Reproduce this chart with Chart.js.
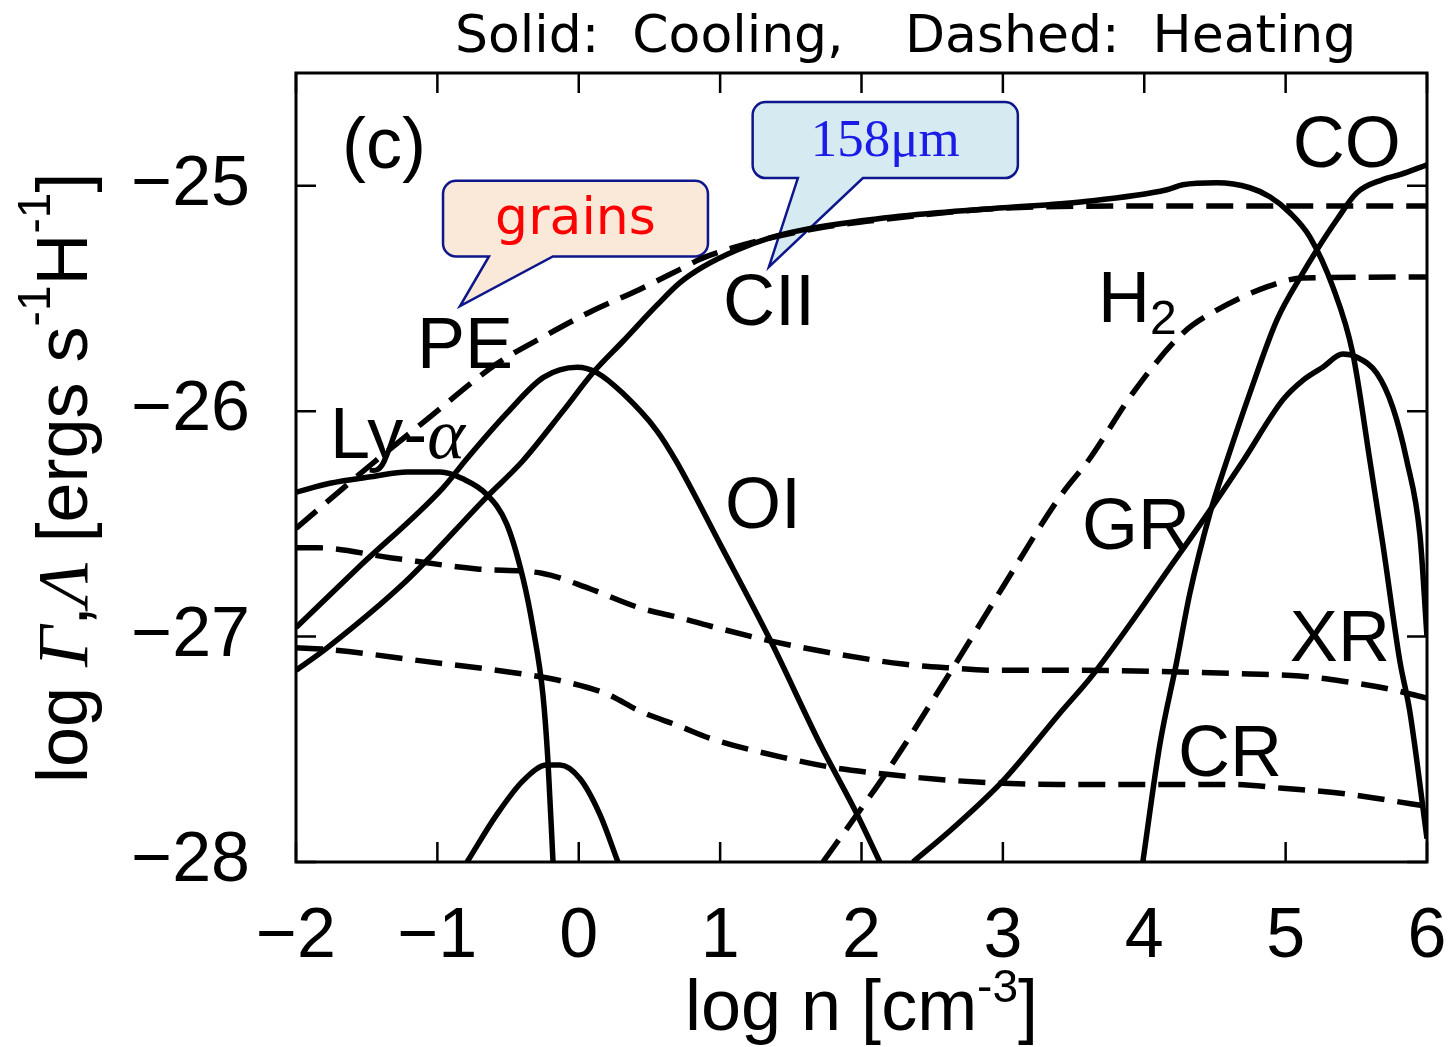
<!DOCTYPE html>
<html lang="en">
<head>
<meta charset="UTF-8" />
<title>Heating and cooling rates vs density</title>
<script src="https://cdn.jsdelivr.net/npm/chart.js"></script>
<style>
  html, body { margin: 0; padding: 0; background: #fff; }
  #wrapper { width: 1456px; height: 1047px; }
</style>
</head>
<body>
<div id="wrapper"><canvas id="ratesChart"></canvas></div>
<script>
// x = log n [cm^-3], y = log rate [ergs s^-1 H^-1]
var xTicks = [-2, -1, 0, 1, 2, 3, 4, 5, 6];
var yTicks = [-28, -27, -26, -25];

// cooling (solid)
var coolCII = [[-2,-27.15],[-1.78,-27.05],[-1.215,-26.75],[-0.65,-26.38],[-0.395,-26.22],[-0.112,-26.0],[0.1,-25.83],[0.313,-25.69],[0.553,-25.53],[0.716,-25.43],[0.878,-25.36],[1.119,-25.285],[1.352,-25.231],[1.586,-25.196],[2.059,-25.151],[2.533,-25.12],[3.0,-25.098],[3.566,-25.071],[4.16,-25.018],[4.273,-24.996],[4.513,-24.987],[4.747,-25.009],[4.888,-25.049],[5.03,-25.12],[5.171,-25.227],[5.334,-25.449],[5.475,-25.743],[5.596,-26.219],[5.687,-26.588],[5.808,-27.109],[5.878,-27.331],[6,-27.896]];
var coolOI = [[-2,-26.96],[-1.57,-26.7],[-0.96,-26.34],[-0.79,-26.21],[-0.51,-26.01],[-0.25,-25.85],[-0.01,-25.805],[0.13,-25.83],[0.31,-25.92],[0.55,-26.085],[0.687,-26.22],[1.0,-26.59],[1.35,-27.01],[1.71,-27.48],[1.97,-27.79],[2.13,-28.0]];
var coolLya = [[-2,-26.36],[-1.76,-26.32],[-1.455,-26.29],[-1.215,-26.27],[-0.98,-26.27],[-0.82,-26.3],[-0.65,-26.37],[-0.51,-26.5],[-0.395,-26.74],[-0.324,-26.96],[-0.253,-27.26],[-0.218,-27.55],[-0.182,-28.0]];
var coolOther = [[-0.79,-28.0],[-0.58,-27.79],[-0.395,-27.64],[-0.225,-27.57],[-0.133,-27.57],[0.008,-27.63],[0.15,-27.79],[0.277,-28.0]];
var coolGR = [[2.364,-28.0],[2.646,-27.85],[3.0,-27.64],[3.403,-27.34],[3.636,-27.17],[4.23,-26.65],[4.464,-26.44],[4.7,-26.22],[4.98,-25.95],[5.122,-25.863],[5.263,-25.805],[5.404,-25.747],[5.504,-25.761],[5.645,-25.832],[5.758,-25.983],[5.857,-26.219],[5.95,-26.55],[6.0,-27.0]];
var coolCO = [[3.99,-28.0],[4.11,-27.48],[4.23,-27.11],[4.322,-26.81],[4.464,-26.455],[4.584,-26.22],[4.747,-25.92],[4.938,-25.596],[5.122,-25.387],[5.221,-25.285],[5.362,-25.151],[5.504,-25.031],[5.687,-24.973],[5.808,-24.951],[6,-24.907]];

// heating (dashed)
var heatPE = [[-2,-26.52],[-1.455,-26.23],[-1.1,-26.05],[-0.58,-25.79],[-0.25,-25.67],[0.08,-25.56],[0.43,-25.46],[0.72,-25.37],[0.88,-25.32],[1.59,-25.2],[2.29,-25.14],[3.0,-25.1],[4.0,-25.09],[6,-25.09]];
var heatH2 = [[1.727,-28.0],[1.967,-27.79],[2.18,-27.6],[2.646,-27.14],[3.0,-26.78],[3.403,-26.38],[3.615,-26.21],[3.919,-25.92],[4.273,-25.654],[4.513,-25.552],[4.867,-25.449],[5.122,-25.409],[6,-25.405]];
var heatXR = [[-2,-26.606],[-1.85,-26.606],[-1.335,-26.65],[-0.72,-26.7],[-0.253,-26.72],[0.079,-26.788],[0.433,-26.873],[0.716,-26.917],[0.928,-26.953],[1.352,-27.019],[1.826,-27.077],[2.293,-27.122],[2.646,-27.14],[2.887,-27.149],[3.403,-27.149],[4.747,-27.166],[5.1,-27.175],[5.404,-27.198],[5.737,-27.233],[6,-27.273]];
var heatCR = [[-2,-27.05],[-1.81,-27.055],[-1.1,-27.109],[-0.395,-27.166],[-0.112,-27.198],[0.199,-27.255],[0.433,-27.331],[0.716,-27.398],[0.928,-27.451],[1.472,-27.54],[1.826,-27.584],[2.18,-27.611],[2.533,-27.633],[3.0,-27.651],[3.403,-27.656],[4.627,-27.656],[4.98,-27.673],[5.404,-27.696],[5.687,-27.722],[6,-27.753]];

var SANS = "'Liberation Sans', Arial, Helvetica, sans-serif";
var SERIF = "'Liberation Serif', 'Times New Roman', serif";

// curve labels, placed in data coordinates (left edge, baseline)
var curveLabels = [
  { x: -1.675, y: -24.92, parts: [{ t: "(c)" }] },
  { x: 5.051, y: -24.915, parts: [{ t: "CO" }] },
  { x: 1.02, y: -25.618, parts: [{ t: "CII" }] },
  { x: 3.672, y: -25.605, parts: [{ t: "H" }, { t: "2", size: 48, dy: 12 }] },
  { x: -1.144, y: -25.81, parts: [{ t: "PE" }] },
  { x: -1.76, y: -26.21, parts: [{ t: "Ly-" }, { t: "\u03b1", family: SERIF, style: "italic" }] },
  { x: 1.034, y: -26.517, parts: [{ t: "OI" }] },
  { x: 3.559, y: -26.61, parts: [{ t: "GR" }] },
  { x: 5.03, y: -27.109, parts: [{ t: "XR" }] },
  { x: 4.238, y: -27.62, parts: [{ t: "CR" }] }
];

// speech-bubble callouts (data coordinates)
var callouts = [
  { text: "grains", font: "52px 'DejaVu Sans', Verdana, sans-serif", color: "#ff0000", fill: "#fae8d8",
    x1: -0.96, x2: 0.914, y1: -24.978, y2: -25.314, b1: -0.635, b2: -0.183, tx: -0.84, ty: -25.534 },
  { text: "158\u03bcm", font: "53px " + SERIF, color: "#1c1ce8", fill: "#d6eaf1",
    x1: 1.23, x2: 3.106, y1: -24.629, y2: -24.966, b1: 1.55, b2: 2.01, tx: 1.345, ty: -25.36 }
];

function fmt(v) {
  return v < 0 ? "\u2212" + Math.abs(v) : String(v);
}

function drawParts(ctx, x, y, parts, baseSize) {
  var cx = x;
  parts.forEach(function (p) {
    var size = p.size || baseSize;
    ctx.font = (p.style || "normal") + " " + size + "px " + (p.family || SANS);
    ctx.fillText(p.t, cx, y + (p.dy || 0));
    cx += ctx.measureText(p.t).width;
  });
}

function bubble(ctx, c, xs, ys) {
  var x1 = xs.getPixelForValue(c.x1), x2 = xs.getPixelForValue(c.x2);
  var y1 = ys.getPixelForValue(c.y1), y2 = ys.getPixelForValue(c.y2);
  var b1 = xs.getPixelForValue(c.b1), b2 = xs.getPixelForValue(c.b2);
  var tx = xs.getPixelForValue(c.tx), ty = ys.getPixelForValue(c.ty);
  var r = 13;
  ctx.beginPath();
  ctx.moveTo(x1 + r, y1);
  ctx.lineTo(x2 - r, y1);
  ctx.arcTo(x2, y1, x2, y1 + r, r);
  ctx.lineTo(x2, y2 - r);
  ctx.arcTo(x2, y2, x2 - r, y2, r);
  ctx.lineTo(b2, y2);
  ctx.lineTo(tx, ty);
  ctx.lineTo(b1, y2);
  ctx.lineTo(x1 + r, y2);
  ctx.arcTo(x1, y2, x1, y2 - r, r);
  ctx.lineTo(x1, y1 + r);
  ctx.arcTo(x1, y1, x1 + r, y1, r);
  ctx.closePath();
  ctx.fillStyle = c.fill;
  ctx.fill();
  ctx.lineWidth = 2.5;
  ctx.strokeStyle = "#0d168a";
  ctx.stroke();
  ctx.fillStyle = c.color;
  ctx.font = c.font;
  ctx.textAlign = "center";
  ctx.textBaseline = "middle";
  ctx.fillText(c.text, (x1 + x2) / 2, (y1 + y2) / 2 + 2);
}

var decorPlugin = {
  id: "decor",
  beforeDatasetsDraw: function (chart) {
    var ctx = chart.ctx;
    ctx.save();
    callouts.forEach(function (c) { bubble(ctx, c, chart.scales.x, chart.scales.y); });
    ctx.restore();
  },
  afterDatasetsDraw: function (chart) {
    var ctx = chart.ctx, a = chart.chartArea;
    var xs = chart.scales.x, ys = chart.scales.y;
    ctx.save();
    // frame
    ctx.strokeStyle = "#000";
    ctx.lineWidth = 3;
    ctx.strokeRect(a.left, a.top, a.right - a.left, a.bottom - a.top);
    // inward ticks on all sides
    ctx.lineWidth = 2.5;
    ctx.beginPath();
    xTicks.forEach(function (v) {
      var px = xs.getPixelForValue(v);
      ctx.moveTo(px, a.bottom); ctx.lineTo(px, a.bottom - 20);
      ctx.moveTo(px, a.top); ctx.lineTo(px, a.top + 20);
    });
    yTicks.forEach(function (v) {
      var py = ys.getPixelForValue(v);
      ctx.moveTo(a.left, py); ctx.lineTo(a.left + 20, py);
      ctx.moveTo(a.right, py); ctx.lineTo(a.right - 20, py);
    });
    ctx.stroke();

    // curve labels
    ctx.fillStyle = "#000";
    ctx.textAlign = "left";
    ctx.textBaseline = "alphabetic";
    curveLabels.forEach(function (l) {
      drawParts(ctx, xs.getPixelForValue(l.x), ys.getPixelForValue(l.y), l.parts, 72);
    });

    // title
    ctx.font = "52px 'DejaVu Sans', Verdana, sans-serif";
    ctx.fillText("Solid:  Cooling,", 455, 52);
    ctx.fillText("Dashed:  Heating", 905, 52);

    // x axis title, centred under the plot
    var xt = [{ t: "log n [cm" }, { t: "-3", size: 46, dy: -28 }, { t: "]" }];
    var w = 0;
    xt.forEach(function (p) {
      ctx.font = (p.size || 72) + "px " + SANS;
      w += ctx.measureText(p.t).width;
    });
    drawParts(ctx, (a.left + a.right) / 2 - w / 2, 1030, xt, 72);

    // y axis title, rotated
    ctx.translate(87, 783);
    ctx.rotate(-Math.PI / 2);
    drawParts(ctx, 0, 0, [
      { t: "log " },
      { t: "\u0393", family: SERIF, style: "italic" },
      { t: "," },
      { t: "\u039b", family: SERIF, style: "italic" },
      { t: " [ergs s" },
      { t: "-1", size: 46, dy: -37 },
      { t: "H" },
      { t: "-1", size: 46, dy: -37 },
      { t: "]" }
    ], 72);
    ctx.restore();
  }
};

function series(points, dashed) {
  return {
    data: points.map(function (p) { return { x: p[0], y: p[1] }; }),
    borderColor: "#000",
    borderWidth: 5.5,
    borderDash: dashed ? [27, 13] : [],
    borderCapStyle: "butt",
    pointRadius: 0,
    fill: false,
    cubicInterpolationMode: "monotone"
  };
}

// keep the plot box fixed: no extra room for overhanging tick labels
function noPadding(s) {
  s.paddingLeft = 0; s.paddingRight = 0; s.paddingTop = 0; s.paddingBottom = 0;
}

var ctx = document.getElementById("ratesChart").getContext("2d");
var chart = new Chart(ctx, {
  type: "line",
  data: {
    datasets: [
      series(coolCII, false),
      series(coolOI, false),
      series(coolLya, false),
      series(coolOther, false),
      series(coolGR, false),
      series(coolCO, false),
      series(heatPE, true),
      series(heatH2, true),
      series(heatXR, true),
      series(heatCR, true)
    ]
  },
  options: {
    responsive: true,
    maintainAspectRatio: false,
    animation: false,
    devicePixelRatio: 1,
    layout: { padding: { top: 73, right: 29, left: 0, bottom: 0 } },
    plugins: { legend: { display: false }, tooltip: { enabled: false } },
    scales: {
      x: {
        type: "linear",
        min: -2,
        max: 6,
        afterBuildTicks: function (s) { s.ticks = xTicks.map(function (v) { return { value: v }; }); },
        afterFit: function (s) { s.height = 185; noPadding(s); },
        grid: { display: false, drawTicks: false },
        border: { display: false },
        ticks: {
          font: { family: SANS, size: 70 },
          color: "#000",
          padding: 34,
          maxRotation: 0,
          autoSkip: false,
          callback: function (v) { return fmt(v); }
        }
      },
      y: {
        type: "linear",
        min: -28,
        max: -24.5,
        afterBuildTicks: function (s) { s.ticks = yTicks.map(function (v) { return { value: v }; }); },
        afterFit: function (s) { s.width = 296; noPadding(s); },
        grid: { display: false, drawTicks: false },
        border: { display: false },
        ticks: {
          font: { family: SANS, size: 70 },
          color: "#000",
          padding: 46,
          autoSkip: false,
          callback: function (v) { return fmt(v); }
        }
      }
    }
  },
  plugins: [decorPlugin]
});
</script>
</body>
</html>
